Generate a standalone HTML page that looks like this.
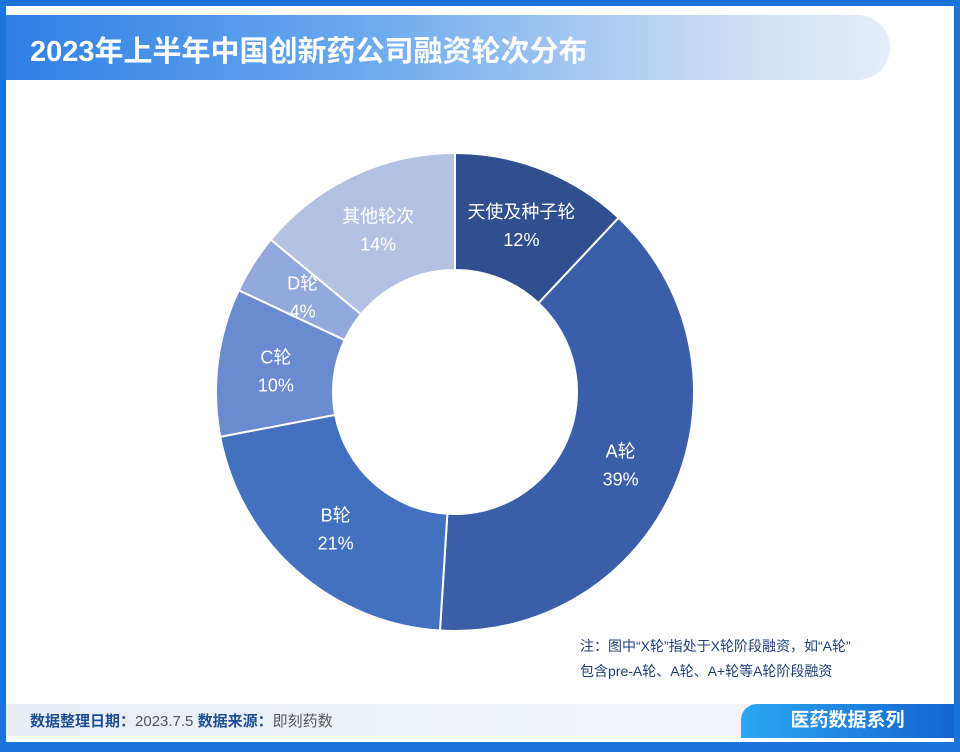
<!DOCTYPE html>
<html><head><meta charset="utf-8"><style>
body{margin:0;width:960px;height:748px;overflow:hidden;background:#fff;font-family:"Liberation Sans","Noto Sans CJK SC",sans-serif}
#frame{position:absolute;left:0;top:0;width:948px;height:736px;border:6px solid #1a73d9;border-bottom-width:10px;background:#fff}
#title{position:absolute;left:6px;top:15px;width:884px;height:65px;border-radius:0 34px 34px 0;background:linear-gradient(90deg,#2f80e4 0%,#6aa8ee 40%,#c8dbf3 80%,#e6eef8 100%)}
#title span{position:absolute;left:24px;top:13px;color:#fff;font-size:29px;font-weight:bold}
#foot{position:absolute;left:6px;top:704px;width:948px;height:32px;background:linear-gradient(90deg,#e8eef5,#f4f7fa)}
#foot span{position:absolute;left:24px;top:6px;font-size:15px;color:#555}
#foot b{color:#1d4f95}
#series{position:absolute;left:741px;top:704px;width:213px;height:34px;border-radius:16px 0 0 0;background:linear-gradient(90deg,#2aa8f0,#1563d0);color:#fff;font-size:19px;font-weight:bold;text-align:center;line-height:34px}
#note{position:absolute;left:580px;top:634px;font-size:14px;color:#1d3f7a;line-height:25px}
</style></head><body>
<div id="frame"></div>
<div id="title"><span>2023年上半年中国创新药公司融资轮次分布</span></div>
<svg id="chart" width="960" height="748" style="position:absolute;left:0;top:0"></svg>
<div id="note">注：图中“X轮”指处于X轮阶段融资，如“A轮”<br>包含pre-A轮、A轮、A+轮等A轮阶段融资</div>
<div id="foot"><span><b>数据整理日期：</b>2023.7.5 <b>数据来源：</b>即刻药数</span></div>
<div id="series">医药数据系列</div>
<script>
const categories=["天使及种子轮","A轮","B轮","C轮","D轮","其他轮次"];
const values=[12,39,21,10,4,14];
const colors=["#2f4f8f","#3a5ea8","#4370bf","#6b8bd0","#93a8dc","#b3c1e2"];
const svg=document.getElementById('chart');
const NS="http://www.w3.org/2000/svg";
const cx=455,cy=392,R=239,r=122;
const total=values.reduce((a,b)=>a+b,0);
function pt(rad,a){return [cx+rad*Math.sin(a),cy-rad*Math.cos(a)];}
let acc=0;
values.forEach((v,i)=>{
  const a0=acc/total*2*Math.PI;acc+=v;const a1=acc/total*2*Math.PI;
  const lg=(a1-a0)>Math.PI?1:0;
  const [x0,y0]=pt(R,a0),[x1,y1]=pt(R,a1),[x2,y2]=pt(r,a1),[x3,y3]=pt(r,a0);
  const p=document.createElementNS(NS,'path');
  p.setAttribute('d',`M${x0},${y0}A${R},${R} 0 ${lg} 1 ${x1},${y1}L${x2},${y2}A${r},${r} 0 ${lg} 0 ${x3},${y3}Z`);
  p.setAttribute('fill',colors[i]);p.setAttribute('stroke','#fff');p.setAttribute('stroke-width','2');
  
  
  svg.appendChild(p);
  const am=(a0+a1)/2;const [lx,ly]=pt((R+r)/2,am);
  [[categories[i],-6],[v+'%',22]].forEach((t,j)=>{
    const tx=document.createElementNS(NS,'text');
    tx.setAttribute('x',lx);tx.setAttribute('y',ly+t[1]);tx.setAttribute('text-anchor','middle');
    tx.setAttribute('fill','#fff');tx.setAttribute('font-size','18');
    tx.textContent=t[0];
    
    
    svg.appendChild(tx);
  });
});
</script>
</body></html>
